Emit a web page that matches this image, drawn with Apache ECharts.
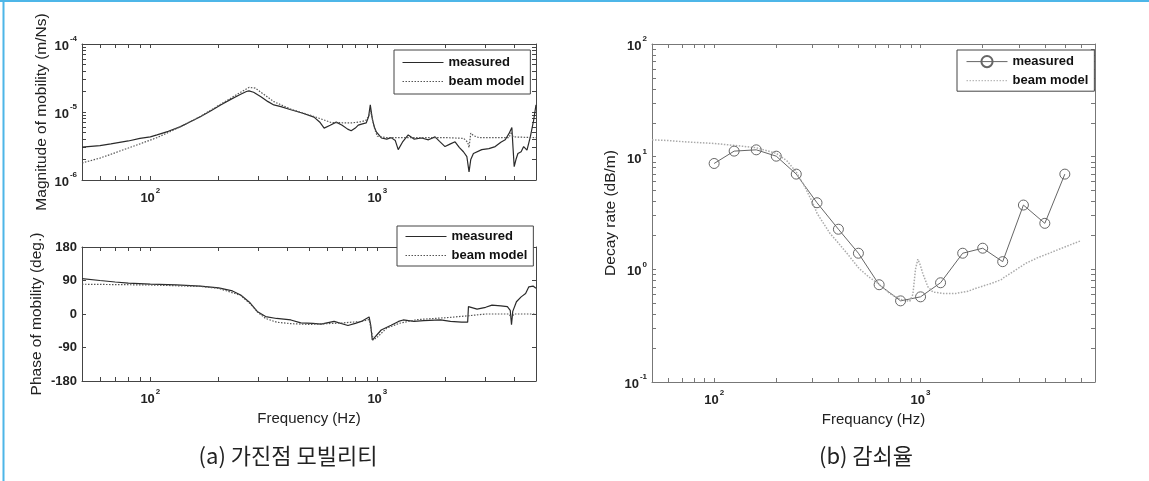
<!DOCTYPE html>
<html><head><meta charset="utf-8">
<script src="https://cdn.jsdelivr.net/npm/echarts@6/dist/echarts.min.js"></script>
<style>html,body{margin:0;padding:0;background:#fff}#c{width:1149px;height:481px}</style>
</head><body><div id="c"></div>
<script>
// ---------- (a) magnitude of mobility ----------
const magFreqMeasured = [50,60,67,80,90,100,107,120,136,150,166,185,204,225,250,265,272,285,307,330,350,376,416,470,526,560,583,620,659,700,740,767,800,824,860,893,915,931,950,970,990,1042,1100,1150,1200,1236,1290,1368,1450,1566,1680,1796,1880,1987,2100,2200,2300,2395,2480,2535,2580,2650,2884,3100,3306,3500,3659,3800,3914,3960,4008,4080,4162,4300,4412,4563,4720,4880,5000];
const magMeasured = [3.05e-6,3.2e-6,3.39e-6,3.75e-6,4.1e-6,4.3e-6,4.6e-6,5.2e-6,6.1e-6,7.2e-6,8.5e-6,1.04e-5,1.27e-5,1.52e-5,1.82e-5,2.0e-5,2.04e-5,1.95e-5,1.68e-5,1.42e-5,1.27e-5,1.2e-5,1.08e-5,9.6e-6,8.4e-6,7.0e-6,5.8e-6,6.4e-6,7.1e-6,6.4e-6,5.6e-6,5.3e-6,5.8e-6,6.4e-6,6.7e-6,6.9e-6,8.5e-6,1.27e-5,8.0e-6,6.0e-6,5.1e-6,4.15e-6,4.0e-6,4.2e-6,3.8e-6,2.8e-6,3.6e-6,4.6e-6,4.0e-6,4.15e-6,3.9e-6,4.3e-6,3.7e-6,3.1e-6,3.4e-6,3.65e-6,3.0e-6,2.6e-6,2.2e-6,1.32e-6,2.0e-6,2.45e-6,2.8e-6,2.9e-6,3.1e-6,3.6e-6,3.9e-6,4.8e-6,5.9e-6,3.0e-6,1.57e-6,2.0e-6,2.45e-6,2.6e-6,3.1e-6,2.75e-6,4.3e-6,7.5e-6,1.27e-5];
const magFreqBeam = [50,60,67,80,90,107,120,136,166,204,250,272,290,307,350,416,526,626,767,850,893,920,931,950,975,1000,1100,1500,2000,2400,2500,2535,2580,2650,2800,3800,3900,3960,5000];
const magBeam = [1.78e-6,2.1e-6,2.39e-6,2.95e-6,3.4e-6,4.2e-6,5.0e-6,6.1e-6,8.6e-6,1.3e-5,1.95e-5,2.3e-5,2.25e-5,1.95e-5,1.42e-5,1.1e-5,8.6e-6,7.0e-6,6.9e-6,7.2e-6,7.6e-6,9.0e-6,1.07e-5,8.0e-6,5.5e-6,4.4e-6,4.2e-6,4.2e-6,4.2e-6,4.1e-6,3.6e-6,3.0e-6,4.9e-6,4.5e-6,4.2e-6,4.2e-6,5.1e-6,4.3e-6,4.2e-6];

// ---------- (a) phase of mobility ----------
const phaseFreqMeasured = [50,60,70,80,100,130,166,200,230,250,275,297,322,360,416,460,520,565,645,742,800,850,920,935,950,1040,1150,1240,1300,1450,1600,1900,2100,2350,2500,2520,2750,3000,3200,3500,3740,3850,3900,3950,4100,4300,4500,4650,4850,5000];
const phaseMeasured = [95,90,86,83,80,78,75,70,62,51,30,6,-7,-12,-16,-24,-25,-27,-20,-31,-25,-20,-8,-30,-70,-43,-30,-20,-16,-20,-18,-16,-20,-22,-22,20,13,18,24,22,20,10,-29,7,33,46,55,73,75,69];
const phaseFreqBeam = [50,100,166,200,250,275,297,322,360,416,500,600,700,850,920,960,1000,1100,1250,1500,2000,2500,3000,3800,3900,4000,5000];
const phaseBeam = [80,78,74,69,50,28,5,-12,-22,-26,-28,-26,-24,-20,-15,-70,-62,-38,-25,-15,-10,-5,0,0,-10,0,0];

// ---------- (b) decay rate ----------
const bandFreq = [100,125,160,200,250,315,400,500,630,800,1000,1250,1600,2000,2500,3150,4000,5000];
const decayMeasured = [8.7,11.2,11.5,10.1,7.0,3.9,2.27,1.39,0.73,0.525,0.57,0.76,1.39,1.54,1.17,3.72,2.56,7.0];
const decayFreqBeam = [50,60,70,80,100,130,160,200,225,250,275,300,315,363,400,450,503,560,628,710,800,886,918,945,970,995,1025,1085,1147,1280,1480,1700,1860,2200,2460,2520,2800,3230,3700,4200,5000,5960];
const decayBeam = [14.1,13.9,13.6,13.4,13.1,12.5,12.0,10.7,9.2,7.3,5.4,3.9,3.15,2.1,1.71,1.32,1.02,0.86,0.74,0.61,0.54,0.52,0.6,1.0,1.23,1.1,0.92,0.7,0.63,0.61,0.61,0.64,0.68,0.75,0.81,0.84,0.95,1.13,1.27,1.39,1.58,1.79];

// ---------- tick values ----------
const freqTicksA = [50,60,70,80,90,100,200,300,400,500,600,700,800,900,1000,2000,3000,4000,5000];
const freqTicksB = [50,60,70,80,90,100,200,300,400,500,600,700,800,900,1000,2000,3000,4000,5000,6000,7000];
const freqLabels = [100,1000];
const magTicks = [1e-6,2e-6,3e-6,4e-6,5e-6,6e-6,7e-6,8e-6,9e-6,1e-5,2e-5,3e-5,4e-5,5e-5,6e-5,7e-5,8e-5,9e-5,1e-4];
const magLabels = [1e-6,1e-5,1e-4];
const phaseTicks = [-180,-90,0,90,180];
const decayTicks = [0.1,0.2,0.3,0.4,0.5,0.6,0.7,0.8,0.9,1,2,3,4,5,6,7,8,9,10,20,30,40,50,60,70,80,90,100];
const decayLabels = [0.1,1,10,100];

const zip = (xs, ys) => xs.map((x, i) => [x, ys[i]]);
const FONT = '"Liberation Sans", Arial, sans-serif';
const supFmt = v => '{b|10}{s|' + Math.round(Math.log10(v)) + '}';
const supRich = {
  b: {fontFamily: FONT, fontSize: 13, fontWeight: 'bold', color: '#222', lineHeight: 18, verticalAlign: 'bottom'},
  s: {fontFamily: FONT, fontSize: 8, fontWeight: 'bold', color: '#222', lineHeight: 10, verticalAlign: 'top', padding: [0,0,0,1]}
};

function logX(grid, pos, min, max, ticks, labels, color, name) {
  return {
    type: 'log', logBase: 10, gridIndex: grid, position: pos, min: min, max: max,
    name: name || '', nameLocation: 'middle', nameGap: 30,
    nameTextStyle: {fontFamily: FONT, fontSize: 15, color: '#222'},
    axisLine: {show: true, onZero: false, lineStyle: {color: color, width: 1}},
    axisTick: {show: true, inside: true, length: 4, customValues: ticks, lineStyle: {color: color}},
    axisLabel: pos === 'bottom' ? {show: true, customValues: labels, formatter: supFmt, rich: supRich, margin: 7} : {show: false},
    splitLine: {show: false}, minorTick: {show: false}
  };
}
function logY(grid, pos, min, max, ticks, labels, color, name, gap) {
  return {
    type: 'log', logBase: 10, gridIndex: grid, position: pos, min: min, max: max,
    name: name || '', nameLocation: 'middle', nameGap: gap || 32, nameRotate: 90,
    nameTextStyle: {fontFamily: FONT, fontSize: 15.5, color: '#222'},
    axisLine: {show: true, onZero: false, lineStyle: {color: color, width: 1}},
    axisTick: {show: true, inside: true, length: 4, customValues: ticks, lineStyle: {color: color}},
    axisLabel: pos === 'left' ? {show: true, customValues: labels, formatter: supFmt, rich: supRich, margin: 5} : {show: false},
    splitLine: {show: false}
  };
}
function phaseY(pos) {
  return {
    type: 'value', gridIndex: 1, position: pos, min: -180, max: 180, interval: 90,
    name: pos === 'left' ? 'Phase of mobility (deg.)' : '', nameLocation: 'middle', nameGap: 37, nameRotate: 90,
    nameTextStyle: {fontFamily: FONT, fontSize: 15.5, color: '#222'},
    axisLine: {show: true, onZero: false, lineStyle: {color: '#444'}},
    axisTick: {show: true, inside: true, length: 4, lineStyle: {color: '#444'}},
    axisLabel: pos === 'left' ? {show: true, margin: 5, fontFamily: FONT, fontSize: 13, fontWeight: 'bold', color: '#222'} : {show: false},
    splitLine: {show: false}
  };
}
const noSym = {opacity: 0};
function legendBox(names, left, top, width, padding) {
  return {
    data: names, orient: 'vertical', left: left, top: top, width: width,
    itemWidth: 41, itemHeight: 14, itemGap: 6,
    lineStyle: {width: 1},
    padding: padding, borderColor: '#444', borderWidth: 1, backgroundColor: '#fff',
    formatter: n => n.trim(), selectedMode: false,
    textStyle: {fontFamily: FONT, fontSize: 13, fontWeight: 'bold', color: '#111'}
  };
}

const option = {
  backgroundColor: '#fff',
  animation: false,
  grid: [
    {left: 82, top: 44, width: 454, height: 136},
    {left: 82, top: 247, width: 454, height: 134},
    {left: 652, top: 44, width: 443, height: 338}
  ],
  xAxis: [
    logX(0, 'bottom', 50, 5000, freqTicksA, freqLabels, '#444'),
    logX(0, 'top', 50, 5000, freqTicksA, freqLabels, '#444'),
    logX(1, 'bottom', 50, 5000, freqTicksA, freqLabels, '#444', 'Frequency (Hz)'),
    logX(1, 'top', 50, 5000, freqTicksA, freqLabels, '#444'),
    logX(2, 'bottom', 50, 7000, freqTicksB, freqLabels, '#777', 'Frequancy (Hz)'),
    logX(2, 'top', 50, 7000, freqTicksB, freqLabels, '#777')
  ],
  yAxis: [
    logY(0, 'left', 1e-6, 1e-4, magTicks, magLabels, '#444', 'Magnitude of mobility (m/Ns)', 32),
    logY(0, 'right', 1e-6, 1e-4, magTicks, magLabels, '#444'),
    phaseY('left'),
    phaseY('right'),
    logY(2, 'left', 0.1, 100, decayTicks, decayLabels, '#777', 'Decay rate (dB/m)', 33),
    logY(2, 'right', 0.1, 100, decayTicks, decayLabels, '#777')
  ],
  legend: [
    legendBox([{name: 'measured', itemStyle: noSym}, {name: 'beam model', itemStyle: noSym}], 394, 50, 135, [6, 6, 6, 8]),
    legendBox([{name: 'measured ', itemStyle: noSym}, {name: 'beam model ', itemStyle: noSym}], 397, 226, 136, [4, 6, 4, 8]),
    legendBox(['measured  ', {name: 'beam model  ', itemStyle: noSym}], 957, 50, 133, [5, 6, 4, 9])
  ],
  series: [
    {name: 'measured', type: 'line', xAxisIndex: 0, yAxisIndex: 0, data: zip(magFreqMeasured, magMeasured),
     symbol: 'none', lineStyle: {color: '#2a2a2a', width: 1.2}, itemStyle: {color: '#2a2a2a'}},
    {name: 'beam model', type: 'line', xAxisIndex: 0, yAxisIndex: 0, data: zip(magFreqBeam, magBeam),
     symbol: 'none', lineStyle: {color: '#555', width: 1.2, type: [1.5, 1.5]}, itemStyle: {color: '#555'}},
    {name: 'measured ', type: 'line', xAxisIndex: 2, yAxisIndex: 2, data: zip(phaseFreqMeasured, phaseMeasured),
     symbol: 'none', lineStyle: {color: '#2a2a2a', width: 1.2}, itemStyle: {color: '#2a2a2a'}},
    {name: 'beam model ', type: 'line', xAxisIndex: 2, yAxisIndex: 2, data: zip(phaseFreqBeam, phaseBeam),
     symbol: 'none', lineStyle: {color: '#555', width: 1.2, type: [1.5, 1.5]}, itemStyle: {color: '#555'}},
    {name: 'measured  ', type: 'line', xAxisIndex: 4, yAxisIndex: 4, data: zip(bandFreq, decayMeasured),
     symbol: 'circle', symbolSize: 10, showSymbol: true,
     lineStyle: {color: '#666', width: 1}, itemStyle: {color: 'transparent', borderColor: '#666', borderWidth: 1}},
    {name: 'beam model  ', type: 'line', xAxisIndex: 4, yAxisIndex: 4, data: zip(decayFreqBeam, decayBeam),
     symbol: 'none', lineStyle: {color: '#aaa', width: 1.5, type: [1.5, 1.5]}, itemStyle: {color: '#aaa'}}
  ],
  graphic: [
    {type: 'line', shape: {x1: 0, y1: 1, x2: 1149, y2: 1}, style: {stroke: '#4db6e8', lineWidth: 2}},
    {type: 'line', shape: {x1: 3.5, y1: 0, x2: 3.5, y2: 481}, style: {stroke: '#4db6e8', lineWidth: 2}},
    {type: 'text', x: 288, y: 456, style: {text: '(a) 가진점 모빌리티', align: 'center', verticalAlign: 'middle',
      font: '22px "Noto Sans CJK KR", sans-serif', fill: '#222'}},
    {type: 'text', x: 866, y: 456, style: {text: '(b) 감쇠율', align: 'center', verticalAlign: 'middle',
      font: '22px "Noto Sans CJK KR", sans-serif', fill: '#222'}}
  ]
};
const chart = echarts.init(document.getElementById('c'), null, {renderer: 'canvas'});
chart.setOption(option);
</script></body></html>
